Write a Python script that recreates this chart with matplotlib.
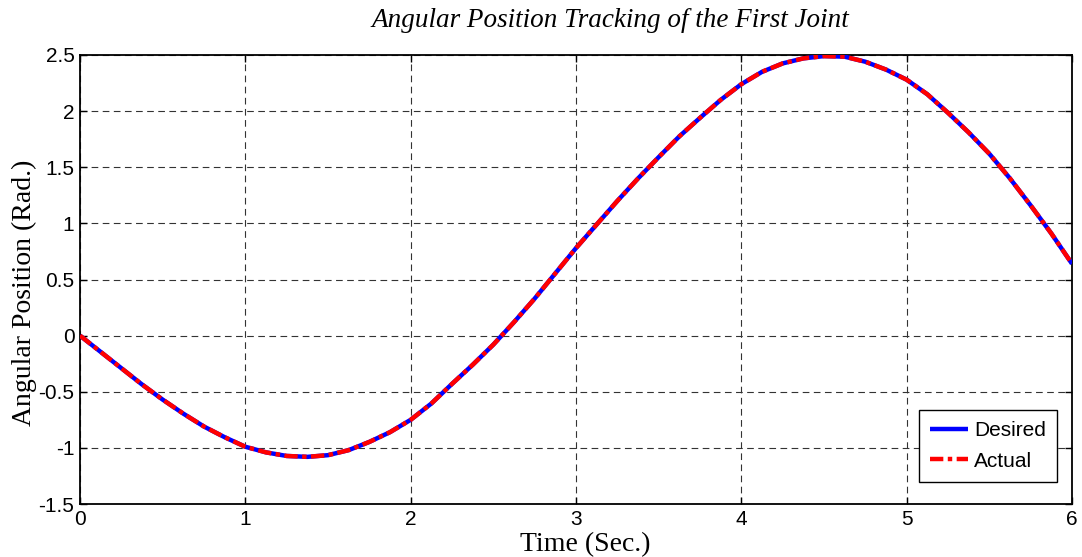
import matplotlib
matplotlib.use("Agg")
import matplotlib.pyplot as plt

# Data
time = [0.0, 0.125, 0.25, 0.375, 0.5, 0.625, 0.75, 0.875, 1.0, 1.125, 1.25, 1.375,
        1.5, 1.625, 1.75, 1.875, 2.0, 2.125, 2.25, 2.375, 2.5, 2.625, 2.75, 2.875,
        3.0, 3.125, 3.25, 3.375, 3.5, 3.625, 3.75, 3.875, 4.0, 4.125, 4.25, 4.375,
        4.5, 4.625, 4.75, 4.875, 5.0, 5.125, 5.25, 5.375, 5.5, 5.625, 5.75, 5.875, 6.0]
desired = [0.0, -0.145, -0.29, -0.435, -0.57, -0.695, -0.81, -0.905, -0.99, -1.04,
           -1.072, -1.08, -1.065, -1.02, -0.947, -0.86, -0.75, -0.605, -0.43, -0.26,
           -0.08, 0.12, 0.33, 0.555, 0.78, 0.99, 1.20, 1.40, 1.59, 1.775, 1.94, 2.10,
           2.24, 2.35, 2.425, 2.47, 2.49, 2.485, 2.44, 2.37, 2.28, 2.15, 1.985, 1.81,
           1.62, 1.40, 1.16, 0.91, 0.64]
actual = [0.0, -0.145, -0.29, -0.435, -0.57, -0.695, -0.81, -0.905, -0.99, -1.04,
          -1.072, -1.08, -1.065, -1.02, -0.947, -0.86, -0.75, -0.605, -0.43, -0.26,
          -0.08, 0.12, 0.33, 0.555, 0.78, 0.99, 1.20, 1.40, 1.59, 1.775, 1.94, 2.10,
          2.24, 2.35, 2.425, 2.47, 2.49, 2.485, 2.44, 2.37, 2.28, 2.15, 1.985, 1.81,
          1.62, 1.40, 1.16, 0.91, 0.64]
xticks = [0, 1, 2, 3, 4, 5, 6]
yticks = [-1.5, -1, -0.5, 0, 0.5, 1, 1.5, 2, 2.5]
ytick_labels = ["-1.5", "-1", "-0.5", "0", "0.5", "1", "1.5", "2", "2.5"]

tick_font = ["Liberation Sans Narrow", "Liberation Sans", "DejaVu Sans"]
serif_font = ["Liberation Serif", "DejaVu Serif"]

fig = plt.figure(figsize=(10.82, 5.57), dpi=100)
ax = fig.add_axes([80 / 1082, 1 - 504 / 557, (1072 - 80) / 1082, (504 - 55) / 557])

ax.plot(time, desired, color="#0000ff", lw=3.2, solid_capstyle="butt",
        solid_joinstyle="round", label="Desired", zorder=3)
ax.plot(time, actual, color="#ff0000", lw=3.2, linestyle=(0, (3.0, 1.0, 1.0, 1.0)),
        dash_joinstyle="round", label="Actual", zorder=4)

ax.set_xlim(0, 6)
ax.set_ylim(-1.5, 2.5)
ax.set_xticks(xticks)
ax.set_xticklabels([str(v) for v in xticks])
ax.set_yticks(yticks)
ax.set_yticklabels(ytick_labels)

ax.grid(True, color="#333333", linestyle=(0, (6, 4)), linewidth=0.8)
ax.set_axisbelow(True)
ax.tick_params(direction="in", top=True, right=True, length=5, width=1.0, pad=4,
               labelsize=15)
for lab in ax.get_xticklabels() + ax.get_yticklabels():
    lab.set_family(tick_font)
for sp in ax.spines.values():
    sp.set_linewidth(1.3)

ax.set_title("Angular Position Tracking of the First Joint", family=serif_font,
             style="italic", fontsize=19.5, pad=20, x=0.535)
ax.set_xlabel("Time (Sec.)", family=serif_font, fontsize=20)
ax.xaxis.set_label_coords(0.509, -0.062)
ax.set_ylabel("Angular Position (Rad.)", family=serif_font, fontsize=20)
ax.yaxis.set_label_coords(-0.043, 0.47)

leg = ax.legend(loc="lower right", bbox_to_anchor=(0.985, 0.049), fancybox=False,
                edgecolor="black", framealpha=1, handlelength=1.8,
                prop={"family": tick_font, "size": 15}, borderpad=0.55,
                labelspacing=0.55, handletextpad=0.3, borderaxespad=0)
leg.get_frame().set_linewidth(1.0)

fig.savefig("out.png", dpi=100)
